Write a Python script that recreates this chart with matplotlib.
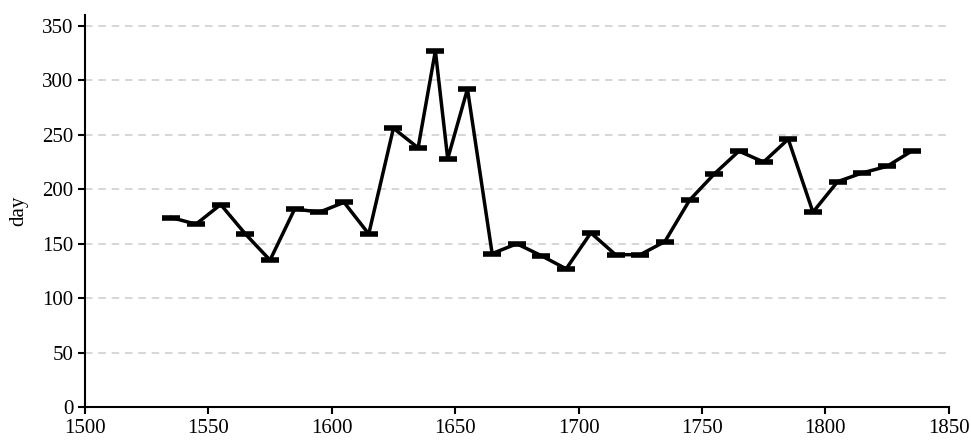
import matplotlib
matplotlib.use("Agg")
import matplotlib.pyplot as plt

years = [1535, 1545, 1555, 1565, 1575, 1585, 1595, 1605, 1615, 1625,
         1635, 1642, 1647, 1655, 1665, 1675, 1685, 1695, 1705, 1715,
         1725, 1735, 1745, 1755, 1765, 1775, 1785, 1795, 1805, 1815,
         1825, 1835]
days = [174, 168, 186, 159, 135, 182, 179, 188, 159, 256,
        238, 327, 228, 292, 141, 150, 139, 127, 160, 140,
        140, 152, 190, 214, 235, 225, 246, 179, 207, 215,
        221, 235]

plt.rcParams['font.family'] = ['Liberation Serif', 'DejaVu Serif']

fig = plt.figure(figsize=(9.71, 4.4), dpi=100)
ax = fig.add_axes([0.0875, 0.0743, 0.8895, 0.892])

ax.plot(years, days, color='black', linewidth=2.5, marker='_',
        markersize=12.5, markeredgewidth=4, zorder=3)

ax.set_xlim(1500, 1850)
ax.set_ylim(0, 360)
ax.set_yticks(range(0, 351, 50))
ax.set_xticks(range(1500, 1851, 50))
ax.yaxis.grid(True, linestyle=(0, (4.5, 3.5)), color='#d0d0d0', linewidth=1.2)
ax.set_axisbelow(True)

for s in ['top', 'right']:
    ax.spines[s].set_visible(False)
for s in ['left', 'bottom']:
    ax.spines[s].set_linewidth(1.5)

ax.tick_params(axis='both', labelsize=15, width=1.5, length=5, direction='out')
ax.set_ylabel('day', fontsize=15, labelpad=10)

fig.savefig('out.png', dpi=100)
